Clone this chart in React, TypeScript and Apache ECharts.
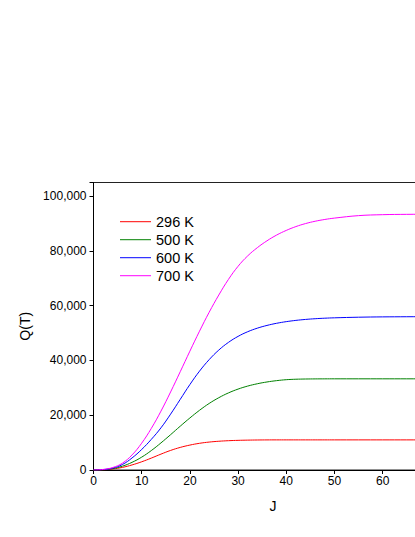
import React, { useEffect, useRef } from "react";
import * as echarts from "echarts";

const J = [0, 2, 4, 6, 8, 10, 12, 14, 16, 18, 20, 22, 24, 26, 28, 30, 32, 34, 36, 38, 40, 42, 44, 46, 48, 50, 55, 60, 65, 70, 75];

const q296 = [0, 80, 380, 950, 1850, 3000, 4350, 5800, 7150, 8250, 9100, 9750, 10200, 10500, 10700, 10830, 10910, 10960, 10990, 11000, 11000, 11000, 11000, 11000, 11000, 11000, 11000, 11000, 11000, 11000, 11000];
const q500 = [0, 100, 500, 1400, 2800, 4700, 7100, 9900, 12900, 16000, 19000, 21800, 24300, 26400, 28150, 29550, 30650, 31500, 32150, 32630, 32980, 33150, 33230, 33270, 33290, 33300, 33300, 33300, 33300, 33300, 33300];
const q600 = [0, 150, 700, 2000, 4400, 7500, 11200, 15400, 20400, 25800, 31200, 36100, 40300, 43800, 46600, 48800, 50500, 51800, 52800, 53580, 54180, 54640, 54990, 55250, 55440, 55580, 55800, 55920, 55970, 56000, 56000];
const q700 = [0, 200, 900, 2500, 5500, 9800, 15200, 21500, 28500, 35900, 43400, 50700, 57600, 63900, 69600, 74400, 78200, 81200, 83700, 85800, 87500, 88900, 90000, 90850, 91500, 92000, 92900, 93250, 93370, 93400, 93400];

const seriesNames = ["296 K", "500 K", "600 K", "700 K"];
const seriesColors = ["#ff0000", "#008000", "#0000ff", "#ff00ff"];
const seriesData = [q296, q500, q600, q700];

const FONT = "'Liberation Sans', Arial, Helvetica, sans-serif";

export default function App() {
  const ref = useRef<HTMLDivElement>(null);
  useEffect(() => {
    if (!ref.current) return;
    const chart = echarts.init(ref.current, undefined, { renderer: "svg" });
    chart.setOption({
      animation: false,
      backgroundColor: "#ffffff",
      textStyle: { fontFamily: FONT },
      grid: {
        left: 93.5,
        top: 182.5,
        bottom: 67,
        width: 359,
        show: true,
        borderColor: "#222",
        borderWidth: 1,
        backgroundColor: "transparent",
      },
      legend: {
        orient: "vertical",
        left: 120,
        top: 212.7,
        padding: 0,
        icon: "rect",
        itemWidth: 31,
        itemHeight: 1,
        itemGap: 0,
        textStyle: { fontFamily: FONT, fontSize: 14.5, color: "#000", lineHeight: 18 },
        data: seriesNames,
      },
      xAxis: {
        type: "value",
        min: 0,
        max: 74.5,
        interval: 10,
        name: "J",
        nameLocation: "middle",
        nameGap: 29,
        nameTextStyle: { fontFamily: FONT, fontSize: 14, color: "#000" },
        axisLine: { lineStyle: { color: "#000", width: 1 } },
        axisTick: { length: 4, lineStyle: { color: "#000" } },
        axisLabel: {
          fontFamily: FONT,
          fontSize: 12,
          color: "#000",
          margin: 5,
          formatter: (v: number) => (v > 65 ? "" : String(v)),
        },
        splitLine: { show: false },
      },
      yAxis: {
        type: "value",
        min: 0,
        max: 105000,
        interval: 20000,
        name: "Q(T)",
        nameLocation: "middle",
        nameGap: 44,
        nameTextStyle: { fontFamily: FONT, fontSize: 14, color: "#000" },
        axisLine: { lineStyle: { color: "#000", width: 1 } },
        axisTick: { length: 4, lineStyle: { color: "#000" } },
        axisLabel: {
          fontFamily: FONT,
          fontSize: 12,
          color: "#000",
          margin: 7,
          formatter: (v: number) => (v > 100000 ? "" : v.toLocaleString("en-US")),
        },
        splitLine: { show: false },
      },
      series: seriesNames.map((name, i) => ({
        name,
        type: "line",
        data: J.map((j, k) => [j, seriesData[i][k]]),
        showSymbol: false,
        symbol: "none",
        smooth: 0.4,
        color: seriesColors[i],
        lineStyle: { color: seriesColors[i], width: 1 },
        clip: true,
      })),
    });
    return () => chart.dispose();
  }, []);
  return (
    <div style={{ position: "absolute", left: 0, top: 0, width: 415, height: 537, overflow: "hidden", background: "#fff" }}>
      <div ref={ref} style={{ width: 480, height: 537 }} />
    </div>
  );
}
